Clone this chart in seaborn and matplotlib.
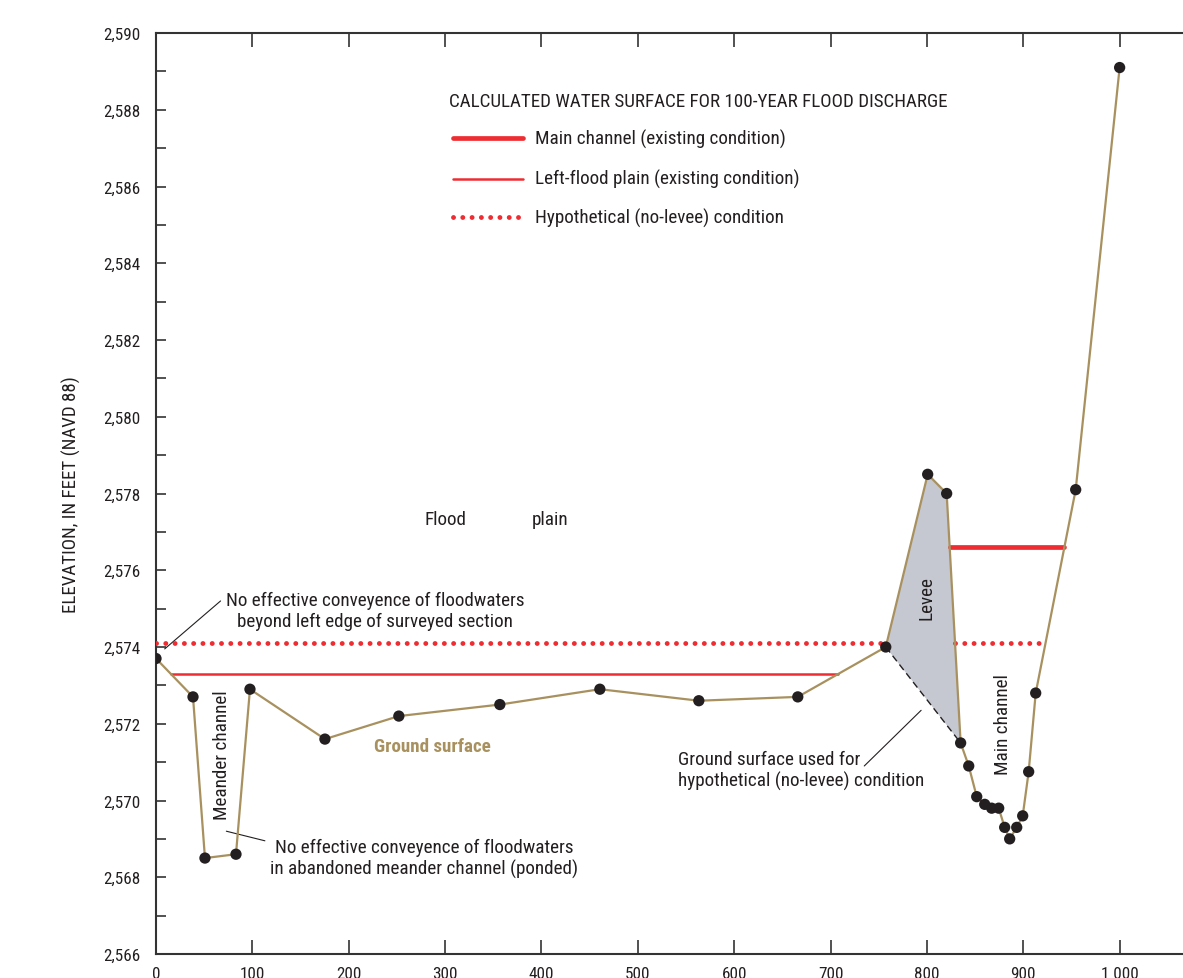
import numpy as np
import pandas as pd
import matplotlib
matplotlib.use("Agg")
import matplotlib.pyplot as plt
import matplotlib.font_manager as fm
import seaborn as sns

# ---- data ----
station = [0, 38.4, 50.8, 83, 97.5, 175.3, 252, 356.8, 460.6, 563.3, 666, 757.3,
           800.8, 820.5, 835, 843.4, 851.7, 860, 867.2, 874.5, 880.7, 885.9,
           893.2, 899.4, 905.6, 912.9, 954.4, 1000]
elevation = [2573.7, 2572.7, 2568.5, 2568.6, 2572.9, 2571.6, 2572.2, 2572.5, 2572.9,
             2572.6, 2572.7, 2574.0, 2578.5, 2578.0, 2571.5, 2570.9, 2570.1, 2569.9,
             2569.8, 2569.8, 2569.3, 2569.0, 2569.3, 2569.6, 2570.75, 2572.8,
             2578.1, 2589.1]
levee_x = [757.3, 800.8, 820.5, 835]
levee_y = [2574.0, 2578.5, 2578.0, 2571.5]
main_ws_x = [823.6, 942.7]
main_ws_y = [2576.6, 2576.6]
left_ws_x = [15.4, 708]
left_ws_y = [2573.3, 2573.3]
hyp1_x = [0, 757.3]
hyp2_x = [829.2, 921]
hyp_y = [2574.1, 2574.1]
xticks = list(range(0, 1101, 100))
xticklabels = ["1 000" if v == 1000 else str(v) for v in xticks]
yticks = list(range(2566, 2591, 2))
yticklabels = [f"{v:,}" for v in yticks]
legend_title = "CALCULATED WATER SURFACE FOR 100-YEAR FLOOD DISCHARGE"
legend_labels = ["Main channel (existing condition)",
                 "Left-flood plain (existing condition)",
                 "Hypothetical (no-levee) condition"]
ylabel = "ELEVATION, IN FEET (NAVD 88)"

TAN = "#a8915f"
RED = "#ee2d32"
TXT = "#231f20"

sns.set_style("white")

# ---- choose a condensed face (prefer one with regular + bold) ----
def wnum(w):
    if isinstance(w, (int, float)):
        return int(w)
    return fm.weight_dict.get(str(w), 400)

cands = {}
for f in fm.fontManager.ttflist:
    if "Narrow" in f.name or "Condensed" in f.name:
        cands.setdefault(f.name, set()).add((wnum(f.weight), f.style))
pref = ["Liberation Sans Narrow", "Roboto Condensed", "Noto Sans Condensed",
        "Open Sans Condensed", "DejaVu Sans Condensed"]
fam = None
def ok(name):
    ws = cands[name]
    reg = any(350 <= w <= 500 and s == "normal" for w, s in ws)
    bold = any(w >= 600 and s == "normal" for w, s in ws)
    return reg and bold
for p in pref:
    if p in cands and ok(p):
        fam = p
        break
if fam is None:
    for n in cands:
        if ok(n):
            fam = n
            break
if fam is None:
    for n in cands:
        if any(350 <= w <= 500 for w, s in cands[n]):
            fam = n
            break
if fam is None:
    fam = "Roboto"
plt.rcParams['font.family'] = [fam, 'DejaVu Sans']

fig = plt.figure(figsize=(11.83, 9.79), dpi=100)
renderer = fig.canvas.get_renderer()

def fit(txt, target_px, weight="normal"):
    t = fig.text(0, 0, txt, fontsize=10, fontweight=weight)
    w = t.get_window_extent(renderer).width
    t.remove()
    return 10.0 * target_px / w

fs_tick = fit("2,590", 37)
fs = fit("No effective conveyence of floodwaters", 297)
fs_title = fit(legend_title, 498)
fs_ylab = fit(ylabel, 235)
fs_bold = fit("Ground surface", 116, "bold")

ax = fig.add_axes([156/1183, 24/979, (1216-156)/1183, (955-34)/979])

df = pd.DataFrame({"station": station, "elevation": elevation})

DOT = (0, (0.01, 1.9))
# levee fill
ax.fill(levee_x, levee_y, color="#c5c8d0", zorder=1, lw=0)
# hypothetical ground surface (dashed)
ax.plot([levee_x[0], levee_x[-1]], [levee_y[0], levee_y[-1]], color=TXT,
        lw=1.0, ls=(0, (5, 3)), zorder=2)

# water surfaces
sns.lineplot(x=main_ws_x, y=main_ws_y, ax=ax, color=RED, lw=3.4, zorder=3)
sns.lineplot(x=left_ws_x, y=left_ws_y, ax=ax, color=RED, lw=1.8, zorder=3)
for hx in (hyp1_x, hyp2_x):
    ax.plot(hx, hyp_y, color=RED, lw=3.5, ls=DOT, dash_capstyle="round", zorder=3)

# ground surface
sns.lineplot(data=df, x="station", y="elevation", ax=ax, color=TAN, lw=1.6,
             sort=False, zorder=4)
sns.scatterplot(data=df, x="station", y="elevation", ax=ax, color=TXT, s=66,
                edgecolor="none", zorder=5)

ax.set_xlim(0, 1100)
ax.set_ylim(2566, 2590)
ax.set_xticks(xticks)
ax.set_xticklabels(xticklabels)
ax.set_yticks(yticks)
ax.set_yticklabels(yticklabels)
ax.set_yticks(list(range(2566, 2591)), minor=True)
ax.tick_params(axis="x", which="major", direction="in", length=10, width=1.2,
               top=True, bottom=True, labelsize=fs_tick, pad=9, colors="#333333",
               labelcolor=TXT)
ax.tick_params(axis="y", which="both", direction="in", length=7, width=1.2,
               left=True, right=False, labelsize=fs_tick, pad=11, colors="#333333",
               labelcolor=TXT)
for s in ax.spines.values():
    s.set_color("#333333")
    s.set_linewidth(1.5)
ax.set_xlabel("")
ax.set_ylabel(ylabel, fontsize=fs_ylab, color=TXT)
ax.yaxis.set_label_coords(-0.0705, 0.5)

# legend (manual)
ax.text(304, 2588.23, legend_title, fontsize=fs_title, color=TXT, va="center", ha="left")
legy = [2587.26, 2586.2, 2585.2]
ax.plot([308, 381], [legy[0]] * 2, color=RED, lw=3.4)
ax.plot([308, 381], [legy[1]] * 2, color=RED, lw=1.8)
ax.plot([308, 381], [legy[2]] * 2, color=RED, lw=3.5, ls=DOT, dash_capstyle="round")
for yy, lab in zip(legy, legend_labels):
    ax.text(393, yy, lab, fontsize=fs, color=TXT, va="center", ha="left")

LS = 1.17
# annotations
ax.text(72.5, 2574.95, "No effective conveyence of floodwaters\nbeyond left edge of surveyed section",
        fontsize=fs, color=TXT, va="center", ha="left", multialignment="center",
        linespacing=LS)
ax.plot([9, 67], [2573.95, 2575.2], color=TXT, lw=0.8)
ax.text(68.5, 2571.2, "Meander channel", rotation=90, fontsize=fs, color=TXT,
        va="center", ha="center")
ax.text(118, 2568.5, "No effective conveyence of floodwaters\nin abandoned meander channel (ponded)",
        fontsize=fs, color=TXT, va="center", ha="left", multialignment="center",
        linespacing=LS)
ax.plot([73, 113], [2569.2, 2568.95], color=TXT, lw=0.8)
ax.text(287, 2571.42, "Ground surface", fontsize=fs_bold, color=TAN, fontweight="bold",
        va="center", ha="center")
ax.text(300, 2577.33, "Flood", fontsize=fs, color=TXT, va="center", ha="center")
ax.text(409, 2577.33, "plain", fontsize=fs, color=TXT, va="center", ha="center")
ax.text(800, 2575.3, "Levee", rotation=90, fontsize=fs, color=TXT,
        va="center", ha="center")
ax.text(878.6, 2572.0, "Main channel", rotation=90, fontsize=fs, color=TXT,
        va="center", ha="center")
ax.text(541.5, 2570.8, "Ground surface used for\nhypothetical (no-levee) condition",
        fontsize=fs, color=TXT, va="center", ha="left", linespacing=LS)
ax.plot([735, 794], [2570.9, 2572.35], color=TXT, lw=0.8)

fig.savefig("out.png", dpi=100)
